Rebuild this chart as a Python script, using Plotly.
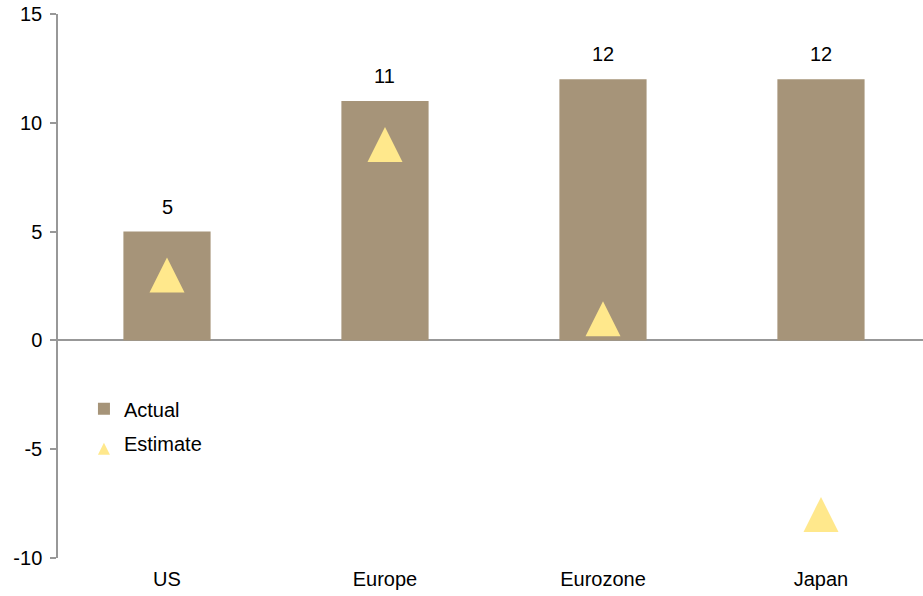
import plotly.graph_objects as go

categories = ["US", "Europe", "Eurozone", "Japan"]
actual = [5, 11, 12, 12]
estimate = [3, 9, 1, -8]
y_ticks = [-10, -5, 0, 5, 10, 15]
y_tick_labels = ["-10", "-5", "0", "5", "10", "15"]

bar_color = "#A69479"
tri_color = "#FFE88C"
font = dict(family="Liberation Sans, Arial, sans-serif", size=20, color="#000000")

Y_MIN, Y_MAX = -10, 15
PLOT_H = 596 - 14 - 38
TRI = 35  # marker size in px (arrow-up: tip at the point, base TRI px below)
shift = (TRI / 2) / PLOT_H * (Y_MAX - Y_MIN)  # centre the marker on its value

fig = go.Figure()
fig.add_trace(go.Bar(
    x=categories, y=actual, name="Actual", marker=dict(color=bar_color, line=dict(width=0)),
    width=0.4, legendgroup="a",
))
fig.add_trace(go.Scatter(
    x=categories, y=estimate, name="Estimate", mode="markers", legendgroup="b",
    yaxis="y2",
    marker=dict(symbol="arrow-up", size=TRI, color=tri_color, line=dict(width=0)),
))

for c, v in zip(categories, actual):
    fig.add_annotation(x=c, y=v, text=str(v), showarrow=False, yshift=25,
                       font=font)

fig.update_layout(
    width=923, height=596,
    margin=dict(l=58, r=0, t=14, b=38),
    paper_bgcolor="white", plot_bgcolor="white",
    font=font,
    showlegend=True,
    legend=dict(x=0.03, y=0.31, xanchor="left", yanchor="top",
                bgcolor="rgba(0,0,0,0)", font=font, tracegroupgap=5,
                traceorder="grouped", itemsizing="constant"),
    bargap=0.6,
    yaxis2=dict(overlaying="y", range=[Y_MIN - shift, Y_MAX - shift], visible=False,
                showgrid=False, zeroline=False),
)
fig.update_xaxes(
    type="category", range=[-0.5, 3.468], showgrid=False, showline=False,
    zeroline=False, ticks="", tickfont=font, ticklabelstandoff=7,
)
fig.update_yaxes(
    selector=dict(overlaying=None),
    range=[Y_MIN, Y_MAX], tickvals=y_ticks, ticktext=y_tick_labels, showgrid=False, showline=True,
    linecolor="#989898", linewidth=1.5, ticks="outside", ticklen=6,
    tickcolor="#989898", tickwidth=1.5, zeroline=True, zerolinecolor="#989898",
    zerolinewidth=1.5, tickfont=font, ticklabelstandoff=4,
)

fig.write_html("out.html")
